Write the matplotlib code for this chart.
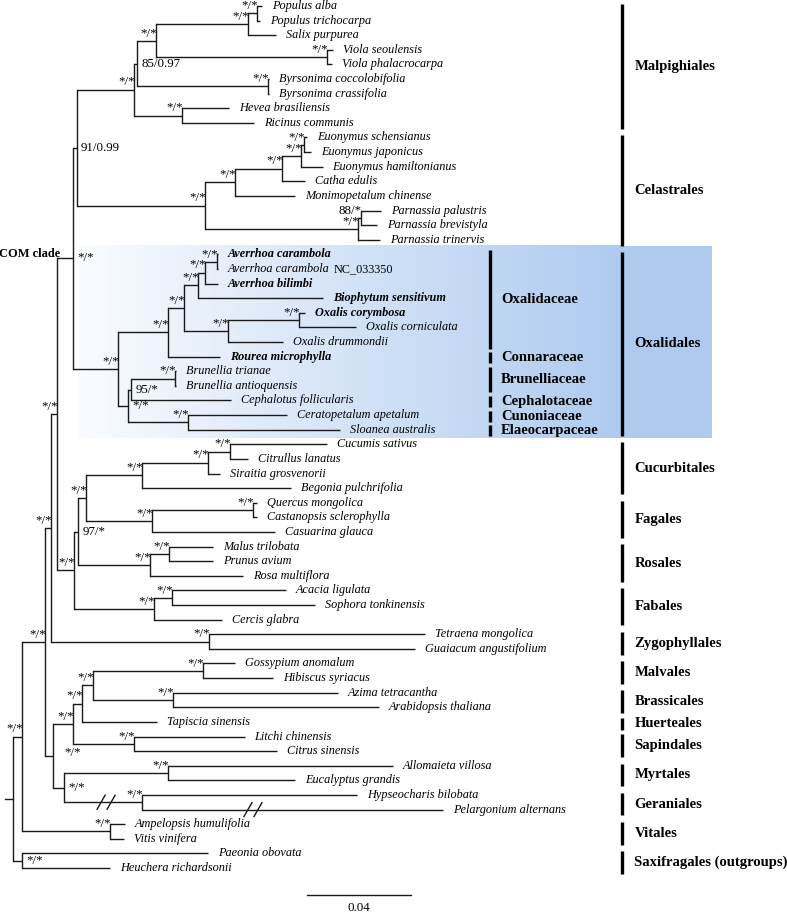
import matplotlib
matplotlib.use('Agg')
import matplotlib.pyplot as plt
import numpy as np
from matplotlib.colors import LinearSegmentedColormap

SERIF = 'Liberation Serif'

# ---- tips (top to bottom) and their depths (subst./site from root)
tip_names = [
    'Populus alba', 'Populus trichocarpa', 'Salix purpurea', 'Viola seoulensis',
    'Viola phalacrocarpa', 'Byrsonima coccolobifolia', 'Byrsonima crassifolia',
    'Hevea brasiliensis', 'Ricinus communis', 'Euonymus schensianus',
    'Euonymus japonicus', 'Euonymus hamiltonianus', 'Catha edulis',
    'Monimopetalum chinense', 'Parnassia palustris', 'Parnassia brevistyla',
    'Parnassia trinervis', 'Averrhoa carambola', 'Averrhoa carambola NC',
    'Averrhoa bilimbi', 'Biophytum sensitivum', 'Oxalis corymbosa',
    'Oxalis corniculata', 'Oxalis drummondii', 'Rourea microphylla',
    'Brunellia trianae', 'Brunellia antioquensis', 'Cephalotus follicularis',
    'Ceratopetalum apetalum', 'Sloanea australis', 'Cucumis sativus',
    'Citrullus lanatus', 'Siraitia grosvenorii', 'Begonia pulchrifolia',
    'Quercus mongolica', 'Castanopsis sclerophylla', 'Casuarina glauca',
    'Malus trilobata', 'Prunus avium', 'Rosa multiflora', 'Acacia ligulata',
    'Sophora tonkinensis', 'Cercis glabra', 'Tetraena mongolica',
    'Guaiacum angustifolium', 'Gossypium anomalum', 'Hibiscus syriacus',
    'Azima tetracantha', 'Arabidopsis thaliana', 'Tapiscia sinensis',
    'Litchi chinensis', 'Citrus sinensis', 'Allomaieta villosa',
    'Eucalyptus grandis', 'Hypseocharis bilobata', 'Pelargonium alternans',
    'Ampelopsis humulifolia', 'Vitis vinifera', 'Paeonia obovata',
    'Heuchera richardsonii',
]
tip_depth = [
    0.0958, 0.0950, 0.1012, 0.1231, 0.1227, 0.0985, 0.0985, 0.0831, 0.0927,
    0.1131, 0.1146, 0.1192, 0.1123, 0.1085, 0.1415, 0.1400, 0.1412,
    0.0788, 0.0788, 0.0788, 0.1192, 0.1123, 0.1319, 0.1038, 0.0796,
    0.0627, 0.0627, 0.0838, 0.1054, 0.1258, 0.1208, 0.0904, 0.0796, 0.1069,
    0.0938, 0.0938, 0.1008, 0.0769, 0.0769, 0.0885, 0.1050, 0.1162, 0.0804,
    0.1585, 0.1546, 0.0854, 0.1000, 0.1250, 0.1408, 0.0554, 0.0892, 0.1015,
    0.1462, 0.1085, 0.1323, 0.1654, 0.0431, 0.0427, 0.0750, 0.0373,
]
bold_tips = ['Averrhoa carambola', 'Averrhoa bilimbi', 'Biophytum sensitivum',
             'Oxalis corymbosa', 'Rourea microphylla']

# ---- internal nodes, children listed before parents
node_ids = ['pop', 'popsal', 'viola', 'popviola', 'byrs', 'malp3', 'hevea', 'malp',
            'euo2', 'euo', 'catha', 'cel2', 'parn2', 'parn', 'cel', 'malpcel',
            'ave2', 'ave', 'avebio', 'oxa2', 'oxa', 'oxalidaceae', 'oxcon', 'brun',
            'bruceph', 'cunelaeo', 'cbce', 'oxalidales', 'com',
            'cuc2', 'cuc', 'cucurb', 'querc', 'fagales', 'D', 'malus', 'rosales', 'C',
            'acacia', 'fabales', 'B', 'A', 'zygo', 'E', 'malv', 'brass', 'mb', 'mbt',
            'sap', 'I', 'myrt', 'ger', 'J', 'H', 'G', 'vit', 'K', 'sax', 'root']
node_children = [
    ['Populus alba', 'Populus trichocarpa'], ['pop', 'Salix purpurea'],
    ['Viola seoulensis', 'Viola phalacrocarpa'], ['popsal', 'viola'],
    ['Byrsonima coccolobifolia', 'Byrsonima crassifolia'], ['popviola', 'byrs'],
    ['Hevea brasiliensis', 'Ricinus communis'], ['malp3', 'hevea'],
    ['Euonymus schensianus', 'Euonymus japonicus'], ['euo2', 'Euonymus hamiltonianus'],
    ['euo', 'Catha edulis'], ['catha', 'Monimopetalum chinense'],
    ['Parnassia palustris', 'Parnassia brevistyla'], ['parn2', 'Parnassia trinervis'],
    ['cel2', 'parn'], ['malp', 'cel'],
    ['Averrhoa carambola', 'Averrhoa carambola NC'], ['ave2', 'Averrhoa bilimbi'],
    ['ave', 'Biophytum sensitivum'], ['Oxalis corymbosa', 'Oxalis corniculata'],
    ['oxa2', 'Oxalis drummondii'], ['avebio', 'oxa'], ['oxalidaceae', 'Rourea microphylla'],
    ['Brunellia trianae', 'Brunellia antioquensis'], ['brun', 'Cephalotus follicularis'],
    ['Ceratopetalum apetalum', 'Sloanea australis'], ['bruceph', 'cunelaeo'],
    ['oxcon', 'cbce'], ['malpcel', 'oxalidales'],
    ['Cucumis sativus', 'Citrullus lanatus'], ['cuc2', 'Siraitia grosvenorii'],
    ['cuc', 'Begonia pulchrifolia'], ['Quercus mongolica', 'Castanopsis sclerophylla'],
    ['querc', 'Casuarina glauca'], ['cucurb', 'fagales'],
    ['Malus trilobata', 'Prunus avium'], ['malus', 'Rosa multiflora'], ['D', 'rosales'],
    ['Acacia ligulata', 'Sophora tonkinensis'], ['acacia', 'Cercis glabra'],
    ['C', 'fabales'], ['com', 'B'], ['Tetraena mongolica', 'Guaiacum angustifolium'],
    ['A', 'zygo'], ['Gossypium anomalum', 'Hibiscus syriacus'],
    ['Azima tetracantha', 'Arabidopsis thaliana'], ['malv', 'brass'],
    ['mb', 'Tapiscia sinensis'], ['Litchi chinensis', 'Citrus sinensis'], ['mbt', 'sap'],
    ['Allomaieta villosa', 'Eucalyptus grandis'],
    ['Hypseocharis bilobata', 'Pelargonium alternans'], ['myrt', 'ger'], ['I', 'J'],
    ['E', 'H'], ['Ampelopsis humulifolia', 'Vitis vinifera'], ['G', 'vit'],
    ['Paeonia obovata', 'Heuchera richardsonii'], ['K', 'sax'],
]
node_depth = [0.0938, 0.0904, 0.1208, 0.0550, 0.0981, 0.0477, 0.0650, 0.0465,
              0.1119, 0.1108, 0.1035, 0.0854, 0.1338, 0.1327, 0.0738, 0.0246,
              0.0785, 0.0738, 0.0712, 0.1100, 0.0827, 0.0658, 0.0596, 0.0623,
              0.0454, 0.0673, 0.0442, 0.0404, 0.0231,
              0.0835, 0.0750, 0.0496, 0.0923, 0.0535, 0.0281, 0.0600, 0.0527, 0.0250,
              0.0612, 0.0542, 0.0235, 0.0169, 0.0754, 0.0146, 0.0731, 0.0615, 0.0308,
              0.0265, 0.0465, 0.0231, 0.0596, 0.0496, 0.0196, 0.0154, 0.0123, 0.0373,
              0.0035, 0.0035, 0.0]
node_support = ['*/*'] * len(node_ids)
node_support[node_ids.index('malp3')] = '85/0.97'
node_support[node_ids.index('malpcel')] = '91/0.99'
node_support[node_ids.index('parn2')] = '88/*'
node_support[node_ids.index('bruceph')] = '95/*'
node_support[node_ids.index('C')] = '97/*'
node_support[node_ids.index('root')] = ''
# 'l' = above branch, left of node; 'r' = right of node
node_label = ['l'] * len(node_ids)
for nid in ['malp3', 'malpcel', 'bruceph', 'cbce', 'com', 'C', 'J', 'sax']:
    node_label[node_ids.index(nid)] = 'r'
node_label[node_ids.index('H')] = 'h'

order_names = ['Malpighiales', 'Celastrales', 'Oxalidales', 'Cucurbitales', 'Fagales',
               'Rosales', 'Fabales', 'Zygophyllales', 'Malvales', 'Brassicales',
               'Huerteales', 'Sapindales', 'Myrtales', 'Geraniales', 'Vitales',
               'Saxifragales (outgroups)']
order_first = ['Populus alba', 'Euonymus schensianus', 'Averrhoa carambola',
               'Cucumis sativus', 'Quercus mongolica', 'Malus trilobata', 'Acacia ligulata',
               'Tetraena mongolica', 'Gossypium anomalum', 'Azima tetracantha',
               'Tapiscia sinensis', 'Litchi chinensis', 'Allomaieta villosa',
               'Hypseocharis bilobata', 'Ampelopsis humulifolia', 'Paeonia obovata']
order_last = ['Ricinus communis', 'Parnassia trinervis', 'Sloanea australis',
              'Begonia pulchrifolia', 'Casuarina glauca', 'Rosa multiflora', 'Cercis glabra',
              'Guaiacum angustifolium', 'Hibiscus syriacus', 'Arabidopsis thaliana',
              'Tapiscia sinensis', 'Citrus sinensis', 'Eucalyptus grandis',
              'Pelargonium alternans', 'Vitis vinifera', 'Heuchera richardsonii']

family_names = ['Oxalidaceae', 'Connaraceae', 'Brunelliaceae', 'Cephalotaceae',
                'Cunoniaceae', 'Elaeocarpaceae']
family_first = ['Averrhoa carambola', 'Rourea microphylla', 'Brunellia trianae',
                'Cephalotus follicularis', 'Ceratopetalum apetalum', 'Sloanea australis']
family_last = ['Oxalis drummondii', 'Rourea microphylla', 'Brunellia antioquensis',
               'Cephalotus follicularis', 'Ceratopetalum apetalum', 'Sloanea australis']

# branches drawn shortened (// marks): (depth, branch owner)
break_depth = [0.0358, 0.0923]
break_owner = ['ger', 'Pelargonium alternans']

scale_len = 0.04

# ---- layout
XLIM = (-0.0050, 0.2977)
YLIM = (62.08, -0.41)
ROOT_STEM = -0.0031
ORDER_BAR_X = 0.2342
FAMILY_BAR_X = 0.1835
BOX_X0, BOX_X1 = 0.0250, 0.2688
SCALE_X0, SCALE_Y = 0.1131, 60.88
LINE = '#1a1a1a'
LW = 1.0

fig = plt.figure(figsize=(7.87, 9.13), dpi=100)
ax = fig.add_axes([0, 0, 1, 1])
ax.axis('off')

pos_x = dict(zip(tip_names, tip_depth))
pos_y = {n: i for i, n in enumerate(tip_names)}
for nid, kids, d in zip(node_ids, node_children, node_depth):
    pos_x[nid] = d
    pos_y[nid] = (pos_y[kids[0]] + pos_y[kids[-1]]) / 2

# Oxalidales shaded box
box_y0 = pos_y['Averrhoa carambola'] - 0.55
box_y1 = pos_y['Sloanea australis'] + 0.6
cmap = LinearSegmentedColormap.from_list('ox', ['#fafcff', '#aecbef'])
ax.imshow(np.linspace(0, 1, 256)[None, :], cmap=cmap, aspect='auto',
          extent=(BOX_X0, ORDER_BAR_X, box_y1, box_y0), zorder=0)
ax.fill_between([ORDER_BAR_X, BOX_X1], box_y0, box_y1, color='#aecbef', lw=0, zorder=0)

# branches
for nid, kids in zip(node_ids, node_children):
    x = pos_x[nid]
    ax.plot([x, x], [pos_y[kids[0]], pos_y[kids[-1]]], color=LINE, lw=LW,
            solid_capstyle='projecting', zorder=2)
    for k in kids:
        ax.plot([x, pos_x[k]], [pos_y[k], pos_y[k]], color=LINE, lw=LW,
                solid_capstyle='butt', zorder=2)
ax.plot([ROOT_STEM, 0], [pos_y['root']] * 2, color=LINE, lw=LW, zorder=2)

# break marks
px_x = (XLIM[1] - XLIM[0]) / 787
px_y = (YLIM[0] - YLIM[1]) / 913
for d, owner in zip(break_depth, break_owner):
    y = pos_y[owner]
    for off in (-5, 5):
        xc = d + off * px_x
        ax.plot([xc - 4 * px_x, xc + 4 * px_x], [y + 7 * px_y, y - 7 * px_y],
                color=LINE, lw=LW, zorder=3)

# tip labels
for name in tip_names:
    label = 'Averrhoa carambola' if name == 'Averrhoa carambola NC' else name
    t = ax.annotate(label, xy=(pos_x[name], pos_y[name]), xytext=(7, 0),
                    textcoords='offset points', ha='left', va='center',
                    family=SERIF, style='italic', fontsize=8.8,
                    weight='bold' if name in bold_tips else 'normal')
    if name == 'Averrhoa carambola NC':
        ax.annotate('NC_033350', xy=(1, 0.5), xycoords=t, xytext=(3, 0),
                    textcoords='offset points', ha='left', va='center',
                    family=SERIF, fontsize=8.8)

# support values
for nid, s, mode in zip(node_ids, node_support, node_label):
    if not s:
        continue
    xy = (pos_x[nid], pos_y[nid])
    if mode == 'l':
        ax.annotate(s, xy=xy, xytext=(0.8, 3.0), textcoords='offset points',
                    ha='right', va='baseline', family=SERIF, fontsize=9.3)
    elif mode == 'r':
        ax.annotate(s, xy=xy, xytext=(3.0, 0), textcoords='offset points',
                    ha='left', va='center', family=SERIF, fontsize=9.3)
    else:
        ax.annotate(s, xy=xy, xytext=(8.5, 2.0), textcoords='offset points',
                    ha='left', va='center', family=SERIF, fontsize=9.3)

ax.annotate('COM clade', xy=(pos_x['com'], pos_y['com']), xytext=(-9.5, 1.2),
            textcoords='offset points', ha='right', va='baseline',
            family=SERIF, weight='bold', fontsize=9)

# order / family bars
for name, a, b in zip(order_names, order_first, order_last):
    y0, y1 = pos_y[a] - 0.15, pos_y[b] + 0.4
    if y1 - y0 < 0.9:
        y0, y1 = y0 - 0.15, y1 + 0.15
    ax.plot([ORDER_BAR_X] * 2, [y0, y1], color='black', lw=2.4, solid_capstyle='butt')
    ax.annotate(name, xy=(ORDER_BAR_X, (y0 + y1) / 2), xytext=(9, 0),
                textcoords='offset points', ha='left', va='center',
                family=SERIF, weight='bold', fontsize=10.5)
for name, a, b in zip(family_names, family_first, family_last):
    y0, y1 = pos_y[a] - 0.3, pos_y[b] + 0.45
    ax.plot([FAMILY_BAR_X] * 2, [y0, y1], color='black', lw=2.4, solid_capstyle='butt')
    ax.annotate(name, xy=(FAMILY_BAR_X, (y0 + y1) / 2), xytext=(8, 0),
                textcoords='offset points', ha='left', va='center',
                family=SERIF, weight='bold', fontsize=10.5)

# scale bar
ax.plot([SCALE_X0, SCALE_X0 + scale_len], [SCALE_Y] * 2, color=LINE, lw=LW)
ax.annotate(f'{scale_len:.2f}', xy=(SCALE_X0 + scale_len / 2, SCALE_Y), xytext=(0, -11.5),
            textcoords='offset points', ha='center', va='baseline', family=SERIF,
            fontsize=9.3)

ax.set_xlim(*XLIM)
ax.set_ylim(*YLIM)
fig.savefig('out.png', dpi=100)
